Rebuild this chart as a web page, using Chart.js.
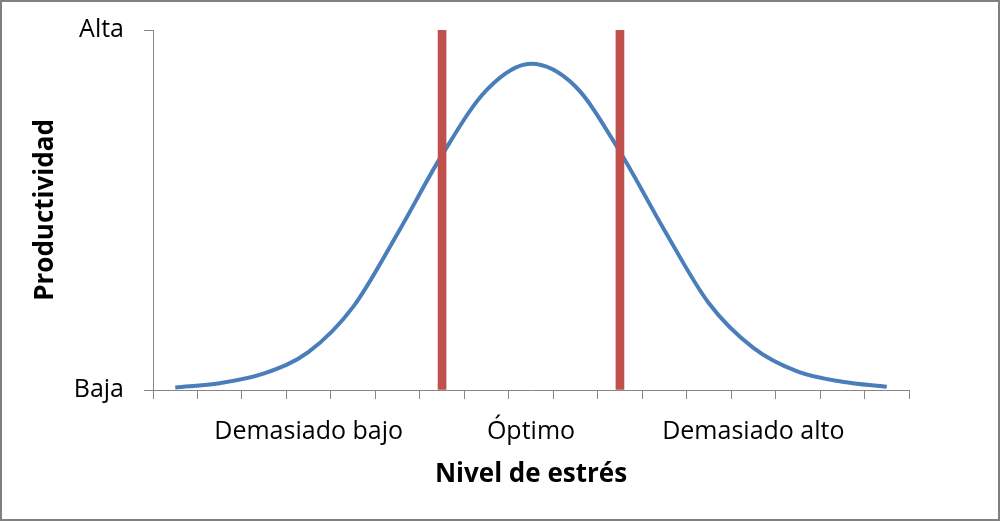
<!DOCTYPE html>
<html>
<head>
<meta charset="utf-8">
<script src="https://cdn.jsdelivr.net/npm/chart.js@4"></script>
<style>
  html, body { margin: 0; padding: 0; background: #fff; }
  #wrap { width: 1000px; height: 521px; position: relative; }
</style>
</head>
<body>
<div id="wrap"><canvas id="chart"></canvas></div>
<script>
// 17 stress levels; only three of them carry a label
const categories = ['', '', '', 'Demasiado bajo', '', '', '', '', 'Óptimo', '', '', '', '', 'Demasiado alto', '', '', ''];
const productividad = [0.007, 0.019, 0.046, 0.106, 0.231, 0.435, 0.653, 0.833, 0.906, 0.843, 0.662, 0.444, 0.241, 0.117, 0.051, 0.023, 0.009];
const limites = [null, null, null, null, null, null, 1, null, null, null, 1, null, null, null, null, null, null];
const yTickLabels = ['Baja', 'Alta'];

const axisGray = '#868686';
const font = 'Open Sans';

const frame = {
  id: 'frame',
  afterDraw(chart) {
    const { ctx, width, height } = chart;
    ctx.save();
    ctx.strokeStyle = '#808080';
    ctx.lineWidth = 2;
    ctx.strokeRect(1, 1, width - 2, height - 2);
    ctx.restore();
  },
};

new Chart(document.getElementById('chart'), {
  type: 'bar',
  data: {
    labels: categories,
    datasets: [
      {
        type: 'bar',
        data: limites,
        backgroundColor: '#C0504D',
        barThickness: 8,
        order: 0,
      },
      {
        type: 'line',
        data: productividad,
        borderColor: '#4A7EBB',
        borderWidth: 4,
        pointRadius: 0,
        cubicInterpolationMode: 'monotone',
        fill: false,
        order: 1,
      },
    ],
  },
  options: {
    responsive: true,
    maintainAspectRatio: false,
    animation: false,
    layout: { padding: { top: 30, right: 91, left: 0, bottom: 0 } },
    plugins: { legend: { display: false }, tooltip: { enabled: false } },
    scales: {
      x: {
        offset: true,
        grid: { offset: true, drawOnChartArea: false, drawTicks: true, tickLength: 9, color: axisGray },
        border: { display: true, color: axisGray, width: 1 },
        ticks: {
          autoSkip: false,
          maxRotation: 0,
          padding: 18,
          color: '#000',
          font: { family: font, size: 25 },
        },
        title: {
          display: true,
          text: 'Nivel de estrés',
          color: '#000',
          font: { family: font, size: 26, weight: 'bold' },
          padding: { top: 0, bottom: 31 },
        },
        afterFit(scale) {
          scale.height = 131;
          scale.paddingLeft = 0;
          scale.paddingRight = 0;
        },
      },
      y: {
        min: 0,
        max: 1,
        grid: { drawOnChartArea: false, drawTicks: true, tickLength: 9, color: axisGray },
        border: { display: true, color: axisGray, width: 1 },
        ticks: {
          stepSize: 1,
          padding: 20,
          color: '#000',
          font: { family: font, size: 25 },
          callback: (v) => yTickLabels[v],
        },
        title: {
          display: true,
          text: 'Productividad',
          color: '#000',
          font: { family: font, size: 26, weight: 'bold' },
          padding: { top: 30, bottom: 0 },
        },
        afterFit(scale) {
          scale.width = 153;
          scale.paddingTop = 0;
          scale.paddingBottom = 0;
        },
      },
    },
  },
  plugins: [frame],
});
</script>
</body>
</html>
